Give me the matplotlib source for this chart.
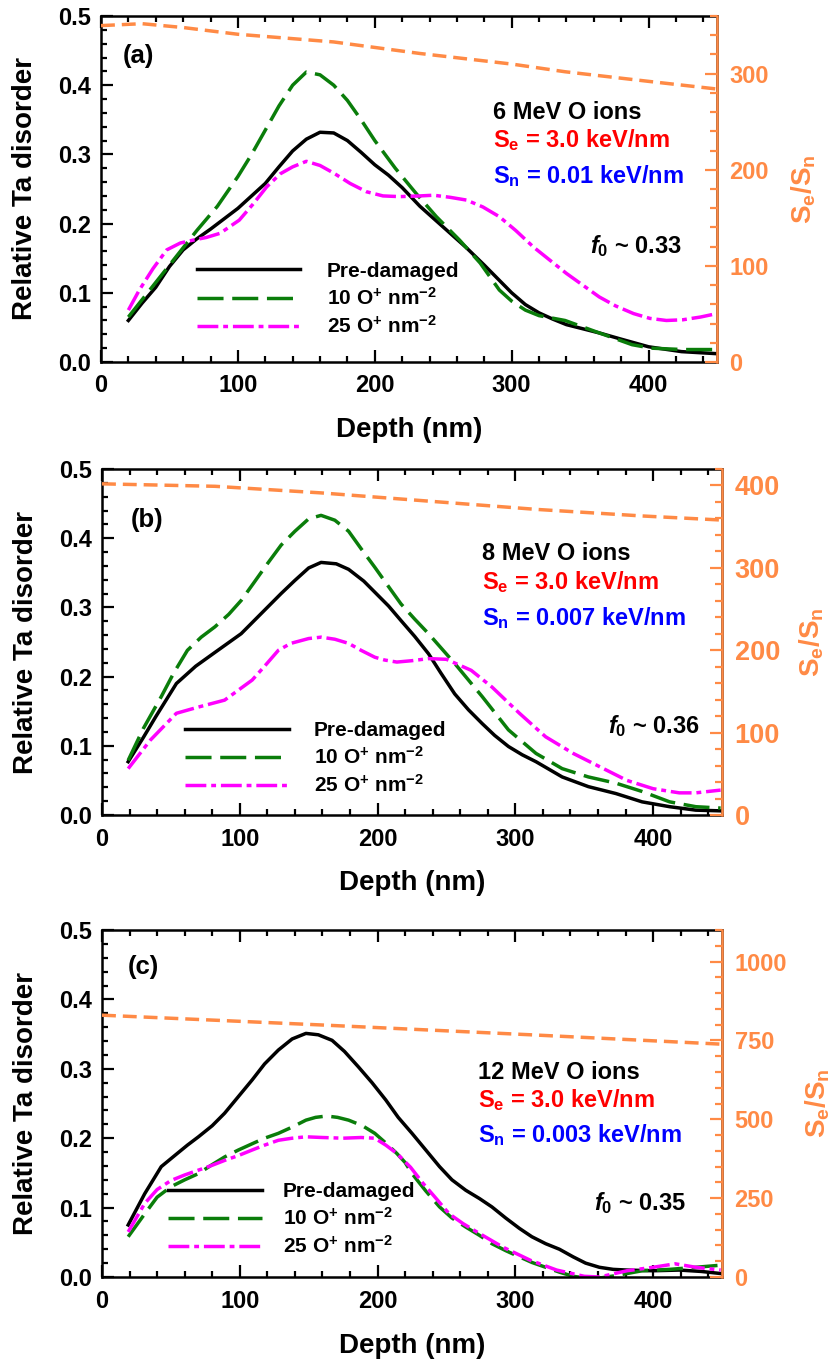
import numpy as np
import matplotlib.pyplot as plt

plt.rcParams['font.family'] = ['Liberation Sans', 'DejaVu Sans']
plt.rcParams['font.weight'] = 'bold'
plt.rcParams['axes.labelweight'] = 'bold'
plt.rcParams['mathtext.fontset'] = 'custom'
plt.rcParams['mathtext.rm'] = 'Liberation Sans:bold'
plt.rcParams['mathtext.it'] = 'Liberation Sans:bold:italic'
plt.rcParams['mathtext.bf'] = 'Liberation Sans:bold'
plt.rcParams['axes.linewidth'] = 1.8
plt.rcParams['lines.solid_joinstyle'] = 'round'
plt.rcParams['lines.dash_joinstyle'] = 'round'

# ---------------------------------------------------------------- data

# (a) 6 MeV
depth_a_pre = [20, 30, 40, 50, 60, 70, 80, 90, 100, 110, 120, 130, 140, 150, 160, 170,
               180, 190, 200, 210, 220, 233, 250, 267, 280, 290, 300, 310, 320, 330,
               340, 364, 380, 400, 424, 450]
pre_a = [0.06, 0.085, 0.108, 0.138, 0.162, 0.178, 0.192, 0.207, 0.222, 0.24, 0.258,
         0.282, 0.305, 0.322, 0.332, 0.331, 0.32, 0.303, 0.285, 0.27, 0.252, 0.225,
         0.195, 0.165, 0.14, 0.12, 0.10, 0.083, 0.071, 0.062, 0.054, 0.042, 0.033,
         0.022, 0.015, 0.012]
depth_a_10 = [20, 30, 40, 50, 60, 70, 85, 100, 110, 120, 130, 140, 150, 160, 170, 180,
              190, 200, 215, 230, 245, 262, 277, 291, 300, 310, 320, 339, 364, 388, 402,
              425, 450]
o10_a = [0.065, 0.09, 0.115, 0.14, 0.165, 0.19, 0.225, 0.268, 0.3, 0.335, 0.37, 0.4,
         0.419, 0.415, 0.4, 0.378, 0.35, 0.32, 0.28, 0.244, 0.21, 0.176, 0.143, 0.104,
         0.088, 0.075, 0.067, 0.06, 0.042, 0.025, 0.02, 0.018, 0.018]
depth_a_25 = [20, 28, 38, 48, 58, 67, 77, 87, 101, 111, 121, 131, 140, 150, 160, 170, 182,
              194, 206, 218, 233, 243, 255, 267, 279, 291, 303, 316, 328, 340, 352, 364,
              376, 389, 401, 413, 425, 438, 450]
o25_a = [0.075, 0.104, 0.135, 0.162, 0.172, 0.176, 0.18, 0.186, 0.205, 0.228, 0.253,
         0.272, 0.282, 0.29, 0.284, 0.273, 0.258, 0.246, 0.24, 0.239, 0.24, 0.241, 0.238,
         0.234, 0.224, 0.21, 0.19, 0.166, 0.147, 0.128, 0.111, 0.094, 0.081, 0.07, 0.063,
         0.06, 0.061, 0.065, 0.07]
depth_a_ratio = [0, 30, 60, 100, 170, 233, 300, 339, 400, 450]
ratio_a = [350, 352, 348, 341, 333, 321, 310, 302, 292, 284]

# (b) 8 MeV
depth_b_pre = [19, 30, 39, 54, 68, 82, 101, 110, 120, 130, 140, 150, 159, 170, 179, 190,
               198, 208, 217, 227, 237, 246, 256, 266, 276, 285, 295, 305, 315, 334, 353,
               373, 392, 412, 431, 449]
pre_b = [0.077, 0.112, 0.142, 0.19, 0.215, 0.235, 0.262, 0.28, 0.30, 0.32, 0.339, 0.357,
         0.365, 0.363, 0.355, 0.338, 0.322, 0.302, 0.281, 0.258, 0.233, 0.205, 0.175,
         0.152, 0.132, 0.115, 0.099, 0.087, 0.077, 0.055, 0.041, 0.031, 0.019, 0.012,
         0.007, 0.006]
depth_b_10 = [19, 30, 43, 52, 62, 72, 82, 92, 101, 110, 120, 130, 140, 150, 159, 169, 179,
              188, 198, 208, 217, 227, 237, 256, 276, 295, 315, 334, 353, 373, 392, 412,
              431, 449]
o10_b = [0.079, 0.125, 0.171, 0.205, 0.238, 0.257, 0.272, 0.29, 0.31, 0.335, 0.363, 0.39,
         0.41, 0.428, 0.433, 0.426, 0.41, 0.385, 0.358, 0.33, 0.305, 0.283, 0.262, 0.219,
         0.171, 0.123, 0.089, 0.067, 0.055, 0.046, 0.034, 0.019, 0.012, 0.01]
depth_b_25 = [19, 35, 54, 70, 89, 109, 118, 128, 137, 150, 159, 169, 179, 188, 198, 205,
              214, 225, 237, 250, 268, 283, 303, 322, 342, 361, 381, 400, 419, 431, 449]
o25_b = [0.067, 0.108, 0.147, 0.156, 0.166, 0.195, 0.215, 0.238, 0.248, 0.255, 0.257,
         0.254, 0.248, 0.238, 0.228, 0.224, 0.221, 0.223, 0.226, 0.225, 0.209, 0.185,
         0.147, 0.113, 0.089, 0.07, 0.05, 0.038, 0.032, 0.032, 0.036]
depth_b_ratio = [0, 82, 159, 237, 315, 392, 450]
ratio_b = [402, 399, 391, 381, 371, 363, 358]

# (c) 12 MeV
depth_c_pre = [19, 31, 43, 54, 62, 70, 80, 89, 99, 109, 118, 128, 138, 148, 157, 167, 176,
               186, 196, 206, 215, 225, 235, 245, 254, 264, 274, 283, 293, 303, 312, 322,
               332, 342, 351, 361, 371, 381, 400, 419, 435, 449]
pre_c = [0.075, 0.12, 0.159, 0.177, 0.19, 0.202, 0.218, 0.236, 0.26, 0.284, 0.307, 0.327,
         0.343, 0.351, 0.349, 0.341, 0.325, 0.303, 0.28, 0.255, 0.23, 0.207, 0.183, 0.159,
         0.14, 0.125, 0.113, 0.101, 0.085, 0.07, 0.058, 0.048, 0.04, 0.029, 0.02, 0.014,
         0.011, 0.01, 0.009, 0.01, 0.008, 0.005]
depth_c_10 = [19, 31, 40, 50, 60, 70, 80, 89, 99, 109, 118, 128, 138, 148, 155, 163, 171,
              179, 189, 198, 206, 214, 220, 225, 235, 245, 254, 264, 274, 283, 293, 303,
              312, 322, 332, 342, 353, 363, 373, 392, 412, 431, 449]
o10_c = [0.058, 0.091, 0.115, 0.13, 0.14, 0.149, 0.162, 0.173, 0.183, 0.192, 0.2, 0.207,
         0.216, 0.226, 0.23, 0.232, 0.23, 0.226, 0.218, 0.207, 0.193, 0.178, 0.165, 0.149,
         0.124, 0.101, 0.085, 0.072, 0.06, 0.048, 0.038, 0.029, 0.021, 0.014, 0.007,
         0.001, -0.002, -0.001, 0.002, 0.009, 0.011, 0.014, 0.017]
depth_c_25 = [19, 31, 40, 50, 60, 70, 80, 89, 99, 109, 118, 128, 138, 148, 160, 175, 188,
              198, 206, 214, 224, 233, 243, 252, 262, 272, 291, 311, 330, 350, 361, 381,
              400, 416, 431, 449]
o25_c = [0.065, 0.106, 0.126, 0.139, 0.147, 0.154, 0.161, 0.168, 0.175, 0.183, 0.19, 0.197,
         0.2, 0.202, 0.201, 0.2, 0.201, 0.2, 0.19, 0.178, 0.158, 0.135, 0.112, 0.091,
         0.077, 0.065, 0.043, 0.024, 0.01, 0.001, 0.0, 0.009, 0.014, 0.019, 0.014, 0.01]
depth_c_ratio = [0, 159, 315, 450]
ratio_c = [830, 799, 767, 738]

labels = ['Pre-damaged', r'10 O$^{+}$ nm$^{-2}$', r'25 O$^{+}$ nm$^{-2}$']
energies = ['6 MeV O ions', '8 MeV O ions', '12 MeV O ions']
sn_text = [r'S$_{\rm n}$ = 0.01 keV/nm', r'S$_{\rm n}$ = 0.007 keV/nm',
           r'S$_{\rm n}$ = 0.003 keV/nm']
f0_text = [r'$f_{\rm 0}$ ~ 0.33', r'$f_{\rm 0}$ ~ 0.36', r'$f_{\rm 0}$ ~ 0.35']

ORANGE = '#ff8a45'
GREEN = '#0a7d0a'
MAGENTA = '#ff00ff'

# ---------------------------------------------------------------- drawing

fig = plt.figure(figsize=(8.36, 13.67), dpi=100)


def panel(rect, tag, pre, o10, o25, ratio, ymax2, major2, minor2, fs2,
          txt_x, txt_y, f0_xy, tag_xy, leg_xy, leg_len, leg_pad, i, lab2_x):
    ax = fig.add_axes(rect)
    ax2 = ax.twinx()

    ax.plot(pre[0], pre[1], color='black', lw=2.5, label=labels[0])
    ax.plot(o10[0], o10[1], color=GREEN, lw=2.5, dashes=(7.5, 2.5), label=labels[1])
    ax.plot(o25[0], o25[1], color=MAGENTA, lw=2.5, dashes=(6, 1.4, 1.4, 1.4),
            label=labels[2])
    ax2.plot(ratio[0], ratio[1], color=ORANGE, lw=2.5, dashes=(4, 2))

    ax.set_xlim(0, 450)
    ax.set_ylim(0, 0.5)
    ax.set_xticks(np.arange(0, 401, 100))
    ax.set_xticks(np.arange(0, 451, 20), minor=True)
    ax.set_yticks(np.arange(0, 0.51, 0.1))
    ax.set_yticks(np.arange(0, 0.51, 0.02), minor=True)
    ax.set_yticklabels(['%.1f' % v for v in np.arange(0, 0.51, 0.1)])
    ax.tick_params(which='both', direction='in', top=True, right=False, width=1.6,
                   labelsize=17)
    ax.tick_params(which='major', length=8.5)
    ax.tick_params(which='minor', length=4.3)
    ax.tick_params(axis='x', pad=9)
    ax.tick_params(axis='y', pad=7)

    ax2.set_ylim(0, ymax2)
    ax2.set_yticks(np.arange(0, ymax2, major2))
    ax2.set_yticks(np.arange(0, ymax2 + 1, minor2), minor=True)
    ax2.tick_params(which='both', direction='in', color=ORANGE, labelcolor=ORANGE,
                    width=1.6, labelsize=fs2, pad=9)
    ax2.tick_params(which='major', length=8.5)
    ax2.tick_params(which='minor', length=5)
    for s in ['left', 'top', 'bottom']:
        ax2.spines[s].set_visible(False)
    ax2.spines['right'].set_color(ORANGE)

    ax.set_xlabel('Depth (nm)', fontsize=20, fontweight='bold')
    ax.xaxis.set_label_coords(0.5, -0.16)
    ax.set_ylabel('Relative Ta disorder', fontsize=20, fontweight='bold')
    ax.yaxis.set_label_coords(-0.102, 0.5)
    ax2.set_ylabel(r'S$_{\rm e}$/S$_{\rm n}$', fontsize=20, fontweight='bold',
                   color=ORANGE)
    ax2.yaxis.set_label_coords(lab2_x, 0.5)

    ax.text(tag_xy[0], tag_xy[1], tag, fontsize=18.5)
    ax.text(txt_x, txt_y[0], energies[i], fontsize=17, color='black')
    ax.text(txt_x, txt_y[1], r'S$_{\rm e}$ = 3.0 keV/nm', fontsize=17, color='red')
    ax.text(txt_x, txt_y[2], sn_text[i], fontsize=17, color='blue')
    ax.text(f0_xy[0], f0_xy[1], f0_text[i], fontsize=17)

    ax.legend(loc='upper left', bbox_to_anchor=leg_xy, bbox_transform=ax.transData,
              frameon=False, fontsize=15, handlelength=leg_len, handletextpad=leg_pad,
              borderpad=0, borderaxespad=0, labelspacing=0.3)
    return ax


panel([101 / 836, 1 - 362 / 1367, 616 / 836, 346 / 1367], '(a)',
      (depth_a_pre, pre_a), (depth_a_10, o10_a), (depth_a_25, o25_a),
      (depth_a_ratio, ratio_a), 360, 100, 20, 17,
      286, (0.351, 0.311, 0.259), (357, 0.158), (16, 0.432), (70, 0.145),
      4.95, 1.3, 0, 1.117)

panel([102 / 836, 1 - 815 / 1367, 620 / 836, 346 / 1367], '(b)',
      (depth_b_pre, pre_b), (depth_b_10, o10_b), (depth_b_25, o25_b),
      (depth_b_ratio, ratio_b), 420, 100, 20, 19.5,
      276, (0.368, 0.327, 0.274), (367, 0.118), (21, 0.416), (60, 0.136),
      5.0, 1.2, 1, 1.121)

panel([102 / 836, 1 - 1277 / 1367, 620 / 836, 347 / 1367], '(c)',
      (depth_c_pre, pre_c), (depth_c_10, o10_c), (depth_c_25, o25_c),
      (depth_c_ratio, ratio_c), 1100, 250, 50, 17,
      273, (0.286, 0.245, 0.195), (357, 0.096), (19, 0.437), (48, 0.137),
      4.5, 1.0, 2, 1.132)

plt.savefig('out.png', dpi=100)
